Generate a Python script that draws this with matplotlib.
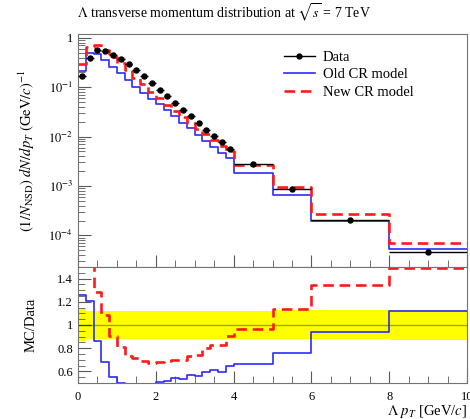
import numpy as np
import matplotlib
matplotlib.use("Agg")
import matplotlib.pyplot as plt
from matplotlib.lines import Line2D
from matplotlib.ticker import MultipleLocator, FixedLocator, NullFormatter, FuncFormatter, LogLocator

plt.rcParams['font.family'] = ['Liberation Serif', 'DejaVu Serif']
plt.rcParams['mathtext.fontset'] = 'stix'

# bin edges in pT (GeV/c)
edges = [0.0, 0.2, 0.4, 0.6, 0.8, 1.0, 1.2, 1.4, 1.6, 1.8, 2.0, 2.2, 2.4, 2.6, 2.8,
         3.0, 3.2, 3.4, 3.6, 3.8, 4.0, 5.0, 6.0, 8.0, 10.0]

# measured spectrum
data = [0.17, 0.40, 0.556, 0.53, 0.46, 0.38, 0.30, 0.22, 0.166, 0.12,
        0.089, 0.065, 0.048, 0.035, 0.026, 0.019, 0.0138, 0.0102, 0.0077, 0.0056,
        0.0028, 8.5e-4, 2.05e-4, 4.7e-5]

# MC / Data
ratio_old = [1.257, 1.21, 0.863, 0.677, 0.55, 0.50, 0.47, 0.46, 0.47, 0.48,
             0.506, 0.52, 0.54, 0.53, 0.566, 0.557, 0.594, 0.614, 0.597, 0.649,
             0.667, 0.76, 0.94, 1.12]
ratio_new = [1.70, 1.65, 1.286, 1.086, 0.906, 0.814, 0.729, 0.714, 0.686, 0.671,
             0.677, 0.686, 0.70, 0.70, 0.729, 0.737, 0.80, 0.823, 0.829, 0.906,
             0.965, 1.136, 1.348, 1.493]

# relative data uncertainty (yellow band)
band_err = [0.14, 0.12, 0.12, 0.12, 0.12, 0.12, 0.12, 0.12, 0.12, 0.12,
            0.12, 0.12, 0.12, 0.12, 0.12, 0.12, 0.12, 0.12, 0.12, 0.12,
            0.12, 0.125, 0.125, 0.13]

edges = np.array(edges)
data = np.array(data)
ratio_old = np.array(ratio_old)
ratio_new = np.array(ratio_new)
band_err = np.array(band_err)
centers = 0.5 * (edges[1:] + edges[:-1])
halfw = 0.5 * (edges[1:] - edges[:-1])
mc_old = ratio_old * data
mc_new = ratio_new * data


def stepvals(v):
    return np.append(v, v[-1])


blue = '#2b2bff'
red = '#ff1a1a'

fig = plt.figure(figsize=(4.7, 4.19), dpi=100)
ax = fig.add_axes([0.166, 0.363, 0.8276, 0.556])
axr = fig.add_axes([0.166, 0.086, 0.8276, 0.277], sharex=ax)

# top panel
ax.step(edges, stepvals(mc_old), where='post', color=blue, lw=1.2)
ax.step(edges, stepvals(mc_new), where='post', color=red, lw=1.9, dashes=(4, 2.2))
ax.errorbar(centers, data, xerr=halfw, fmt='o', color='black', ms=3.6, lw=1.0,
            capsize=0, zorder=5)
ax.set_yscale('log')
ax.set_xlim(0, 10)
ax.set_ylim(2.3e-5, 1.2)
ax.set_yticks([1, 1e-1, 1e-2, 1e-3, 1e-4])
ax.set_yticklabels(['1', '$10^{-1}$', '$10^{-2}$', '$10^{-3}$', '$10^{-4}$'])
ax.yaxis.set_minor_locator(LogLocator(base=10, subs=np.arange(2, 10)))
ax.yaxis.set_minor_formatter(NullFormatter())
ax.set_ylabel(r'$(1/N_{\mathrm{NSD}})\ dN/dp_T\ (\mathrm{GeV}/c)^{-1}$', fontsize=10.5)
ax.yaxis.set_label_coords(-0.105, 0.5)
plt.setp(ax.get_xticklabels(), visible=False)

fig.text(0.164, 0.957, r'$\Lambda$ transverse momentum distribution at $\sqrt{s}$ = 7 TeV',
         fontsize=10, ha='left', va='baseline')

handles = [Line2D([], [], color='black', marker='o', ms=3.5, lw=1.0),
           Line2D([], [], color=blue, lw=1.2),
           Line2D([], [], color=red, lw=1.9, dashes=(4, 2.2))]
ax.legend(handles, ['Data', 'Old CR model', 'New CR model'], loc='upper left',
          bbox_to_anchor=(0.604, 0.879), bbox_transform=fig.transFigure,
          frameon=False, fontsize=10.5, handlelength=2.1, handletextpad=0.55,
          labelspacing=0.3, borderaxespad=0, borderpad=0)

# ratio panel
axr.fill_between(edges, stepvals(1 - band_err), stepvals(1 + band_err), step='post',
                 color='#ffff00', lw=0)
axr.axhline(1.0, color='black', lw=1.0, alpha=0.35)
axr.step(edges, stepvals(ratio_old), where='post', color=blue, lw=1.2)
axr.step(edges, stepvals(ratio_new), where='post', color=red, lw=1.9, dashes=(4, 2.2))
axr.set_ylim(0.5, 1.5)
axr.yaxis.set_major_locator(FixedLocator([0.6, 0.8, 1.0, 1.2, 1.4]))
axr.yaxis.set_major_formatter(FuncFormatter(lambda v, p: '%g' % v))
axr.yaxis.set_minor_locator(MultipleLocator(0.05))
axr.set_ylabel('MC/Data', fontsize=10.5)
axr.yaxis.set_label_coords(-0.105, 0.5)
axr.xaxis.set_major_locator(MultipleLocator(2))
axr.xaxis.set_minor_locator(MultipleLocator(0.5))
axr.set_xlabel(r'$\Lambda\ p_T$ [GeV/$c$]', fontsize=10.5)
axr.xaxis.set_label_coords(1.0, -0.245)
axr.xaxis.label.set_horizontalalignment('right')
axr.xaxis.label.set_verticalalignment('center')

for a in (ax, axr):
    a.tick_params(which='both', direction='in', top=False, right=False, labelsize=9,
                  color='0.35')
    a.tick_params(which='major', length=9, width=0.8)
    a.tick_params(which='minor', length=5, width=0.6)
    for s in a.spines.values():
        s.set_color('0.45')
        s.set_linewidth(0.8)
axr.tick_params(axis='x', which='major', pad=6)

fig.savefig('out.png', dpi=100)
